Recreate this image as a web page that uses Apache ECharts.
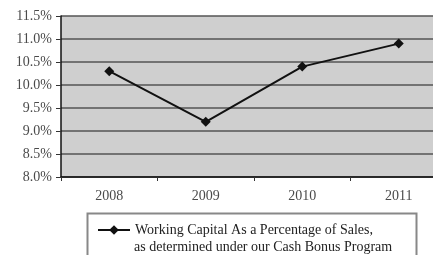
<!DOCTYPE html>
<html>
<head>
  <meta charset="utf-8">
  <script src="https://cdn.jsdelivr.net/npm/echarts@6.0.0/dist/echarts.min.js"></script>
  <style>
    body { margin: 0; padding: 0; background: #fff; }
    #chart { width: 433px; height: 255px; }
  </style>
</head>
<body>
  <div id="chart"></div>
  <script>
    // chart data
    const years = ['2008', '2009', '2010', '2011'];
    const workingCapital = [10.3, 9.2, 10.4, 10.9];
    const seriesName = 'Working Capital As a Percentage of Sales,';
    const legendLine2 = 'as determined under our Cash Bonus Program';

    const serif = '"Liberation Serif", "DejaVu Serif", serif';

    const chart = echarts.init(document.getElementById('chart'));
    chart.setOption({
      animation: false,
      grid: {
        left: 61, top: 16, width: 386, height: 161,
        outerBoundsMode: 'none',
        show: true,
        backgroundColor: '#cfcfcf',
        borderWidth: 0
      },
      xAxis: {
        type: 'category',
        data: years,
        boundaryGap: true,
        axisLine: { lineStyle: { color: '#111', width: 1.5 } },
        axisTick: { show: true, length: 4, lineStyle: { color: '#333' } },
        axisLabel: { margin: 12, fontSize: 14, fontFamily: serif, color: '#4a4a4a' },
        splitLine: { show: false }
      },
      yAxis: {
        type: 'value',
        min: 8,
        max: 11.5,
        interval: 0.5,
        axisLine: { show: true, lineStyle: { color: '#111', width: 1.5 } },
        axisTick: { show: true, length: 5, lineStyle: { color: '#333' } },
        axisLabel: {
          margin: 9, fontSize: 14, fontFamily: serif, color: '#4a4a4a',
          formatter: v => v.toFixed(1) + '%'
        },
        splitLine: { lineStyle: { color: '#555', width: 1.5 } }
      },
      legend: {
        left: 97,
        top: 223,
        itemWidth: 32,
        itemHeight: 12,
        padding: 0,
        textStyle: { fontSize: 14, fontFamily: serif, color: '#222' },
        data: [seriesName]
      },
      graphic: [
        {
          type: 'rect',
          shape: { x: 87.5, y: 213.5, width: 329, height: 60 },
          style: { fill: 'none', stroke: '#888', lineWidth: 2 }
        },
        {
          type: 'text',
          x: 134, y: 247,
          style: {
            text: legendLine2,
            font: '14px ' + serif,
            fill: '#222',
            verticalAlign: 'middle'
          }
        }
      ],
      series: [{
        name: seriesName,
        type: 'line',
        data: workingCapital,
        symbol: 'diamond',
        symbolSize: 10,
        lineStyle: { color: '#111', width: 2 },
        itemStyle: { color: '#111' }
      }]
    });
  </script>
</body>
</html>
